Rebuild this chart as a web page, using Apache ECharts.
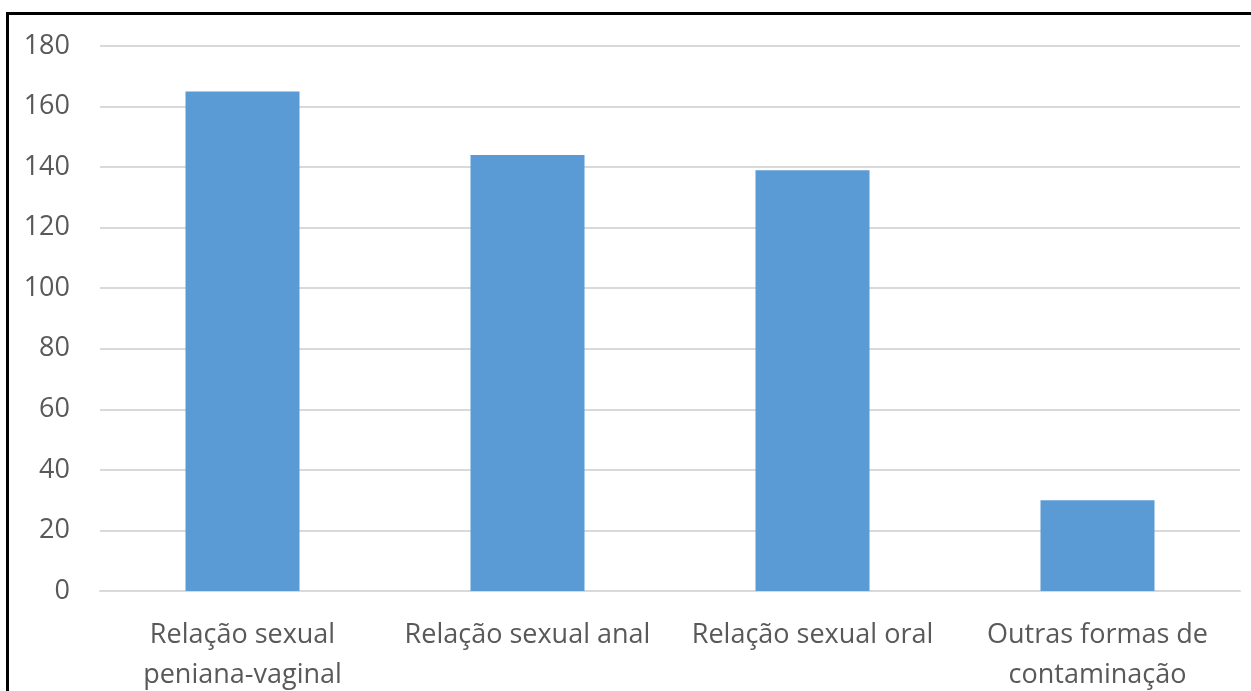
<!DOCTYPE html>
<html>
<head>
<meta charset="utf-8">
<script src="https://cdn.jsdelivr.net/npm/echarts@6/dist/echarts.min.js"></script>
<style>
  html, body { margin: 0; padding: 0; background: #fff; overflow: hidden; }
  #chart { position: absolute; left: 0; top: 0; width: 1251px; height: 691px; }
  #frame { position: absolute; left: 6px; top: 12px; width: 1260px; height: 700px; border: 3px solid #000; box-sizing: border-box; pointer-events: none; }
</style>
</head>
<body>
<div id="chart"></div>
<div id="frame"></div>
<script>
  const categories = ['Relação sexual\npeniana-vaginal', 'Relação sexual anal', 'Relação sexual oral', 'Outras formas de\ncontaminação'];
  const values = [165, 144, 139, 30];
  const yTicks = { min: 0, max: 180, interval: 20 };

  const chart = echarts.init(document.getElementById('chart'));

  const labelFont = { color: '#595959', fontFamily: 'Open Sans', fontSize: 27 };

  const option = {
    animation: false,
    grid: { left: 100, right: 11, top: 46, bottom: 100, containLabel: false, outerBoundsMode: 'none' },
    xAxis: {
      type: 'category',
      data: categories,
      axisLine: { lineStyle: { color: '#d9d9d9', width: 2 } },
      axisTick: { show: false },
      axisLabel: Object.assign({}, labelFont, { lineHeight: 40, margin: 24, interval: 0 })
    },
    yAxis: {
      type: 'value',
      min: yTicks.min,
      max: yTicks.max,
      interval: yTicks.interval,
      axisLine: { show: false },
      axisTick: { show: false },
      splitLine: { lineStyle: { color: '#d9d9d9', width: 2 } },
      axisLabel: Object.assign({}, labelFont, { margin: 30 })
    },
    series: [
      {
        type: 'bar',
        data: values,
        barWidth: '40%',
        itemStyle: { color: '#5b9bd5' }
      }
    ]
  };

  chart.setOption(option);
</script>
</body>
</html>
